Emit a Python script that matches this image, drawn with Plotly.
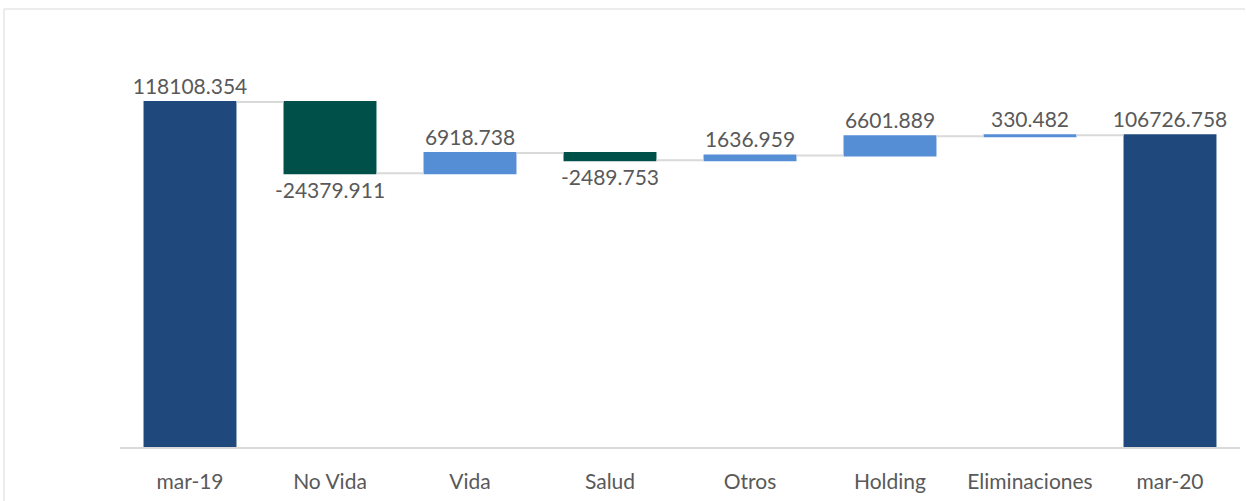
import plotly.graph_objects as go

categories = ["mar-19", "No Vida", "Vida", "Salud", "Otros", "Holding", "Eliminaciones", "mar-20"]
values = [118108.354, -24379.911, 6918.738, -2489.753, 1636.959, 6601.889, 330.482, 106726.758]
measures = ["absolute", "relative", "relative", "relative", "relative", "relative", "relative", "total"]
labels = ["118108.354", "-24379.911", "6918.738", "-2489.753", "1636.959", "6601.889", "330.482", "106726.758"]

W, H = 1246, 501
ML, MR, MT, MB = 120, 6, 38, 54
pw = W - ML - MR
ph = H - MT - MB

fig = go.Figure(go.Waterfall(
    x=categories,
    y=values,
    measure=measures,
    text=labels,
    textposition="outside",
    constraintext="none",
    textfont=dict(family="Lato, Open Sans, sans-serif", size=21, color="#595959"),
    increasing=dict(marker=dict(color="#558ED5", line=dict(width=0))),
    decreasing=dict(marker=dict(color="#00504A", line=dict(width=0))),
    totals=dict(marker=dict(color="#1F497D", line=dict(width=0))),
    connector=dict(line=dict(color="#D9D9D9", width=2)),
    cliponaxis=False,
    hoverinfo="x+y",
))

# outer chart border (top and left light lines)
bx = (4 - ML) / pw
by = (H - 9 - MB) / ph
fig.add_shape(type="line", xref="paper", yref="paper", x0=bx, x1=(W - 1 - ML) / pw, y0=by, y1=by,
              line=dict(color="#D9D9D9", width=1))
fig.add_shape(type="line", xref="paper", yref="paper", x0=bx, x1=bx, y0=by, y1=(H - 501 - MB) / ph,
              line=dict(color="#D9D9D9", width=1))

fig.update_layout(
    width=W, height=H,
    margin=dict(l=ML, r=MR, t=MT, b=MB),
    paper_bgcolor="white", plot_bgcolor="white",
    showlegend=False,
    waterfallgap=0.336,
    font=dict(family="Lato, Open Sans, sans-serif", size=21, color="#595959"),
    xaxis=dict(showline=True, linecolor="#D9D9D9", linewidth=2, showgrid=False,
               ticks="outside", ticklen=15, tickcolor="rgba(0,0,0,0)",
               tickfont=dict(size=21, color="#595959")),
    yaxis=dict(range=[0, 140000], visible=False, showgrid=False, zeroline=False),
)

fig.write_html("out.html", config={"displayModeBar": False},
               post_script="document.body.style.margin='0';document.body.style.overflow='hidden';")
